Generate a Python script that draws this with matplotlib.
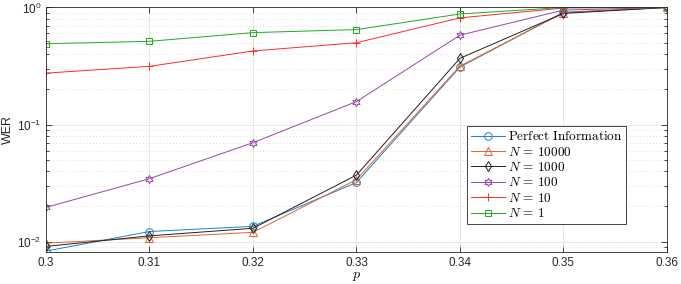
import numpy as np
import matplotlib
matplotlib.use("Agg")
import matplotlib.pyplot as plt
from matplotlib.ticker import LogLocator, NullFormatter

plt.rcParams['font.family'] = ['Liberation Sans', 'DejaVu Sans']
plt.rcParams['mathtext.fontset'] = 'cm'

# Data
p = [0.30, 0.31, 0.32, 0.33, 0.34, 0.35, 0.36]
wer_perfect = [0.0083, 0.0122, 0.0135, 0.032, 0.31, 0.91, 1.0]
wer_n10000 = [0.0097, 0.0108, 0.0120, 0.0338, 0.316, 0.90, 1.0]
wer_n1000 = [0.0091, 0.0112, 0.0130, 0.037, 0.368, 0.89, 1.0]
wer_n100 = [0.0196, 0.0345, 0.070, 0.157, 0.58, 0.95, 1.0]
wer_n10 = [0.275, 0.314, 0.425, 0.50, 0.815, 0.99, 1.0]
wer_n1 = [0.49, 0.514, 0.61, 0.647, 0.88, 1.0, 1.0]

labels = [r'$\mathrm{Perfect\ Information}$', r'$N\,=\,10000$', r'$N\,=\,1000$',
          r'$N\,=\,100$', r'$N\,=\,10$', r'$N\,=\,1$']
xtick_labels = ['0.3', '0.31', '0.32', '0.33', '0.34', '0.35', '0.36']

series = [wer_perfect, wer_n10000, wer_n1000, wer_n100, wer_n10, wer_n1]
colors = ['#1F82CC', '#E0642E', '#202020', '#9348A6', '#FF2A2A', '#22AA22']
markers = ['o', '^', 'd', (6, 1, 0), '+', 's']
msizes = [5.5, 5.5, 5.5, 6, 6, 4.5]

fig = plt.figure(figsize=(6.81, 2.84), dpi=100)
ax = fig.add_axes([0.0675, 0.1137, 0.9119, 0.86])

for y, c, m, ms, lab in zip(series, colors, markers, msizes, labels):
    ax.plot(p, y, color=c, marker=m, markersize=ms, markerfacecolor='none',
            markeredgewidth=0.7, linewidth=0.7, label=lab)

ax.set_yscale('log')
ax.set_xlim(0.3, 0.36)
ax.set_ylim(0.0082, 1.0)
ax.set_xticks(p)
ax.set_xticklabels(xtick_labels)
ax.yaxis.set_minor_locator(LogLocator(base=10, subs=np.arange(2, 10), numticks=20))
ax.yaxis.set_minor_formatter(NullFormatter())

ax.grid(True, which='major', color='#E3E3E3', linewidth=0.6, linestyle='-')
ax.grid(True, which='minor', axis='y', color='#D0D0D0', linewidth=0.6, linestyle=(0, (1, 3)))
ax.set_axisbelow(True)

ax.tick_params(which='both', direction='in', top=True, right=True,
               labelsize=8.5, colors='#262626', width=0.6)
ax.tick_params(which='major', length=4)
ax.tick_params(which='minor', length=2.5)
for s in ax.spines.values():
    s.set_color('#262626')
    s.set_linewidth(0.6)

ax.set_xlabel(r'$p$', fontsize=10, labelpad=0)
ax.set_ylabel('WER', fontsize=9, color='#262626', labelpad=2)

leg = ax.legend(loc='lower left', bbox_to_anchor=(0.678, 0.113), borderaxespad=0,
                fontsize=9.5, numpoints=1, handlelength=2.6, handletextpad=0.2,
                labelspacing=0.18, borderpad=0.3, fancybox=False, framealpha=1)
leg.get_frame().set_edgecolor('#262626')
leg.get_frame().set_linewidth(0.6)

fig.savefig('out.png', dpi=100)
